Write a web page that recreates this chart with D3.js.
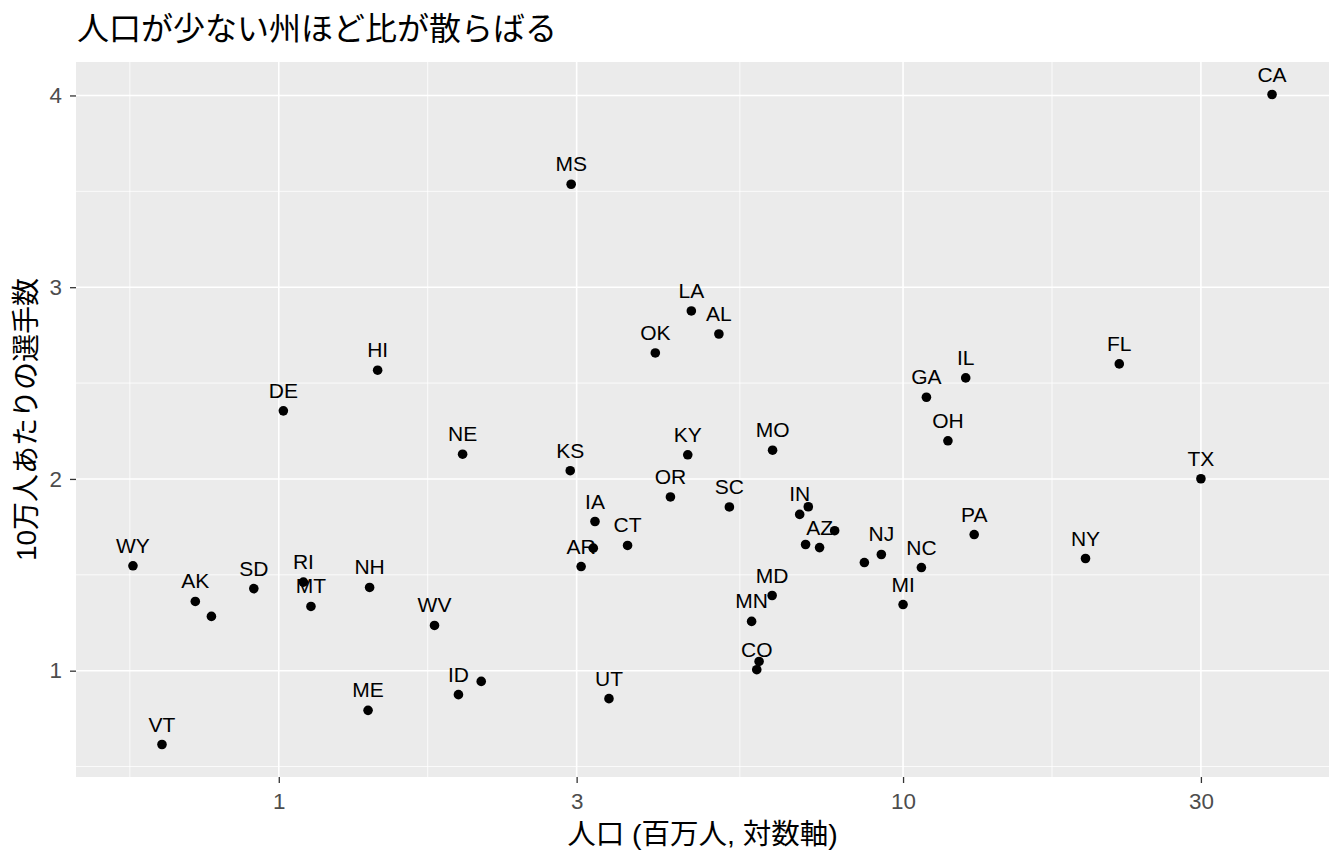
<!DOCTYPE html>
<html>
<head>
<meta charset="utf-8">
<script src="https://cdn.jsdelivr.net/npm/d3@7"></script>
<style>
  body { margin: 0; background: #fff; }
  text { font-family: "Liberation Sans", "Noto Sans CJK JP", sans-serif; }
</style>
</head>
<body>
<script>
// states, population (millions) and players per 100k
var states = ["CA","MS","LA","AL","OK","HI","DE","FL","IL","GA",
              "OH","NE","KS","KY","MO","TX","OR","SC","WA","IN",
              "VA","MA","AZ","IA","CT","NV","AR","PA","NJ","TN",
              "NC","NY","MI","WY","AK","ND","SD","RI","MT","NH",
              "WV","MD","MN","WI","CO","NM","ID","UT","ME","VT"];
var population = [39.0, 2.94, 4.58, 5.07, 4.01, 1.44, 1.017, 22.2, 12.6, 10.9,
                  11.8, 1.97, 2.93, 4.52, 6.18, 30.0, 4.24, 5.27, 7.05, 6.83,
                  7.77, 6.98, 7.35, 3.21, 3.62, 3.19, 3.05, 13.0, 9.23, 8.67,
                  10.7, 19.6, 10.0, 0.584, 0.735, 0.780, 0.912, 1.095, 1.126, 1.398,
                  1.776, 6.17, 5.72, 5.88, 5.83, 2.11, 1.94, 3.38, 1.39, 0.650];
var rate = [4.005, 3.537, 2.876, 2.756, 2.657, 2.567, 2.355, 2.600, 2.527, 2.426,
            2.199, 2.129, 2.043, 2.126, 2.150, 2.001, 1.906, 1.854, 1.855, 1.815,
            1.730, 1.658, 1.642, 1.778, 1.653, 1.639, 1.543, 1.710, 1.606, 1.564,
            1.538, 1.585, 1.345, 1.547, 1.361, 1.283, 1.428, 1.462, 1.335, 1.434,
            1.236, 1.392, 1.257, 1.048, 1.005, 0.944, 0.875, 0.854, 0.793, 0.615];
// labels dropped by check_overlap in the original
var hiddenLabels = ["WA","VA","MA","NV","TN","ND","WI","NM"];

var xTicks = [1, 3, 10, 30];
var xTickLabels = ["1", "3", "10", "30"];
var yTicks = [1, 2, 3, 4];
var yMinor = [0.5, 1.5, 2.5, 3.5];

var titleText = "人口が少ない州ほど比が散らばる";
var xTitle = "人口 (百万人, 対数軸)";
var yTitle = "10万人あたりの選手数";

var w = 1344, h = 864;
var pLeft = 76, pRight = 1329, pTop = 62, pBottom = 777;

var data = [];
for(var i=0; i<states.length; i++) {
  data.push({state: states[i], pop: population[i], rate: rate[i],
             show: hiddenLabels.indexOf(states[i]) < 0});
}

// ggplot style 5% expansion (in log space for x)
var lx = d3.extent(population, function(d) { return Math.log10(d); });
var ex = (lx[1] - lx[0]) * 0.05;
var ly = d3.extent(rate);
var ey = (ly[1] - ly[0]) * 0.05;

var x = d3.scaleLog()
  .domain([Math.pow(10, lx[0] - ex), Math.pow(10, lx[1] + ex)])
  .range([pLeft, pRight]);
var y = d3.scaleLinear()
  .domain([ly[0] - ey, ly[1] + ey])
  .range([pBottom, pTop]);

// minor x breaks: midpoints of majors, extended one step each side
var lt = xTicks.map(function(d) { return Math.log10(d); });
var ext = [lt[0] - (lt[1] - lt[0])].concat(lt).concat([lt[lt.length-1] + (lt[lt.length-1] - lt[lt.length-2])]);
var xMinor = [];
for(var i=0; i<ext.length-1; i++) {
  var m = Math.pow(10, (ext[i] + ext[i+1]) / 2);
  if(m > x.domain()[0] && m < x.domain()[1]) xMinor.push(m);
}

var svg = d3.select("body")
  .append("svg")
  .attr("width", w)
  .attr("height", h);

svg.append("rect")
  .attr("x", pLeft).attr("y", pTop)
  .attr("width", pRight - pLeft).attr("height", pBottom - pTop)
  .attr("fill", "#EBEBEB");

var grid = svg.append("g");
grid.selectAll(".ymin").data(yMinor).enter().append("line")
  .attr("x1", pLeft).attr("x2", pRight)
  .attr("y1", function(d) { return y(d); }).attr("y2", function(d) { return y(d); })
  .attr("stroke", "#fff").attr("stroke-width", 0.8);
grid.selectAll(".xmin").data(xMinor).enter().append("line")
  .attr("y1", pTop).attr("y2", pBottom)
  .attr("x1", function(d) { return x(d); }).attr("x2", function(d) { return x(d); })
  .attr("stroke", "#fff").attr("stroke-width", 0.8);
grid.selectAll(".ymaj").data(yTicks).enter().append("line")
  .attr("x1", pLeft).attr("x2", pRight)
  .attr("y1", function(d) { return y(d); }).attr("y2", function(d) { return y(d); })
  .attr("stroke", "#fff").attr("stroke-width", 1.6);
grid.selectAll(".xmaj").data(xTicks).enter().append("line")
  .attr("y1", pTop).attr("y2", pBottom)
  .attr("x1", function(d) { return x(d); }).attr("x2", function(d) { return x(d); })
  .attr("stroke", "#fff").attr("stroke-width", 1.6);

// axes
var xAxis = svg.append("g")
  .attr("transform", "translate(0," + pBottom + ")")
  .call(d3.axisBottom(x).tickValues(xTicks)
    .tickFormat(function(d, i) { return xTickLabels[i]; })
    .tickSize(6).tickPadding(10));
var yAxis = svg.append("g")
  .attr("transform", "translate(" + pLeft + ",0)")
  .call(d3.axisLeft(y).tickValues(yTicks).tickFormat(d3.format("d"))
    .tickSize(6).tickPadding(8));
[xAxis, yAxis].forEach(function(a) {
  a.attr("font-size", null).attr("font-family", null);
  a.select(".domain").remove();
  a.selectAll(".tick line").attr("stroke", "#333").attr("stroke-width", 1.3);
  a.selectAll(".tick text").attr("fill", "#4D4D4D")
    .style("font-size", "22.4px");
});

// points
svg.selectAll("circle")
  .data(data)
  .enter()
  .append("circle")
  .attr("cx", function(d) { return x(d.pop); })
  .attr("cy", function(d) { return y(d.rate); })
  .attr("r", 4.8)
  .attr("fill", "#000");

// labels
svg.selectAll(".lab")
  .data(data.filter(function(d) { return d.show; }))
  .enter()
  .append("text")
  .attr("class", "lab")
  .attr("x", function(d) { return x(d.pop); })
  .attr("y", function(d) { return y(d.rate) - 13; })
  .attr("text-anchor", "middle")
  .style("font-size", "21px")
  .attr("fill", "#000")
  .text(function(d) { return d.state; });

// titles
svg.append("text")
  .attr("x", 77).attr("y", 40)
  .style("font-size", "32px")
  .attr("fill", "#000")
  .text(titleText);

svg.append("text")
  .attr("x", (pLeft + pRight) / 2).attr("y", 844)
  .attr("text-anchor", "middle")
  .style("font-size", "28.5px")
  .attr("fill", "#000")
  .text(xTitle);

svg.append("text")
  .attr("transform", "translate(36," + ((pTop + pBottom) / 2) + ") rotate(-90)")
  .attr("text-anchor", "middle")
  .style("font-size", "28px")
  .attr("fill", "#000")
  .text(yTitle);
</script>
</body>
</html>
